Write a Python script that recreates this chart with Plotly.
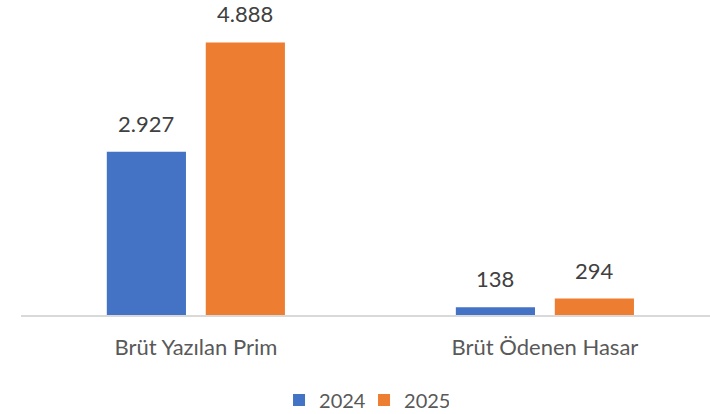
import plotly.graph_objects as go

categories = ["Brüt Yazılan Prim", "Brüt Ödenen Hasar"]
series_names = ["2024", "2025"]
values_2024 = [2927, 138]
values_2025 = [4888, 294]
colors = ["#4472C4", "#ED7D31"]

def fmt(v):
    return f"{v:,}".replace(",", ".")

FONT = "Lato, Open Sans, sans-serif"
TXT = "#595959"

fig = go.Figure()
for name, vals, col in zip(series_names, [values_2024, values_2025], colors):
    fig.add_trace(go.Bar(name=name, x=categories, y=vals, marker=dict(color=col, line=dict(width=0)),
                         hoverinfo="skip"))

# data labels via annotations
for vals, shift in zip([values_2024, values_2025], [-49.5, 49.5]):
    for c, v in zip(categories, vals):
        fig.add_annotation(x=c, y=v, text=fmt(v), showarrow=False, xshift=shift,
                           yanchor="bottom", yshift=13,
                           font=dict(family=FONT, size=22, color="#404040"))

fig.update_layout(
    width=710, height=414,
    margin=dict(l=21, r=0, t=0, b=99, autoexpand=False),
    paper_bgcolor="white", plot_bgcolor="white",
    barmode="group", bargap=0.433, bargroupgap=0.2,
    showlegend=True, hovermode=False,
    legend=dict(orientation="h", x=0.3745, xanchor="left", y=-0.27, yanchor="middle",
                font=dict(family=FONT, size=20, color=TXT), itemwidth=30,
                entrywidth=40, entrywidthmode="pixels"),
    xaxis=dict(range=[-0.501, 1.473], showline=True, linecolor="#D9D9D9", linewidth=2,
               ticks="outside", ticklen=12, tickcolor="rgba(0,0,0,0)",
               tickfont=dict(family=FONT, size=22, color=TXT), showgrid=False),
    yaxis=dict(range=[0, 5650], visible=False, showgrid=False, zeroline=False),
)

fig.write_html(
    "out.html",
    config={"displayModeBar": False, "staticPlot": True},
    post_script=(
        "document.documentElement.style.margin='0';"
        "document.documentElement.style.padding='0';"
        "document.body.style.margin='0';"
        "document.body.style.padding='0';"
        "document.documentElement.style.overflow='hidden';"
        "window.scrollTo(0,0);"
    ),
)
